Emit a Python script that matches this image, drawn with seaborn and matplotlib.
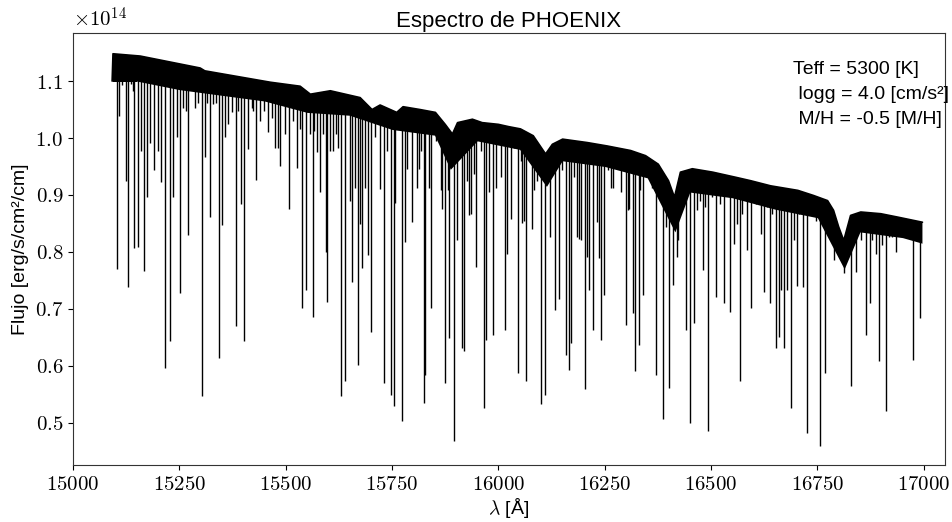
import numpy as np
import pandas as pd
import matplotlib
matplotlib.use("Agg")
import matplotlib.pyplot as plt
from matplotlib.patches import Polygon
from matplotlib.ticker import FuncFormatter, MultipleLocator
import seaborn as sns

# ---- data (flux in units of 1e14 erg/s/cm^2/cm) ----
up_wave = [15092, 15094, 15158, 15299, 15310, 15464, 15534, 15558, 15605, 15675,
           15703, 15722, 15761, 15776, 15816, 15852, 15875, 15892, 15904, 15939,
           15962, 16000, 16024, 16052, 16082, 16111, 16127, 16151, 16209, 16256,
           16311, 16346, 16376, 16400, 16414, 16428, 16456, 16504, 16558, 16593,
           16640, 16704, 16741, 16774, 16788, 16800, 16812, 16828, 16852, 16899,
           16939, 16997]
up_flux = [1.100, 1.148, 1.144, 1.123, 1.118, 1.098, 1.091, 1.077, 1.083, 1.071,
           1.050, 1.058, 1.045, 1.055, 1.050, 1.045, 1.024, 1.007, 1.027, 1.033,
           1.027, 1.024, 1.020, 1.016, 1.004, 0.972, 0.989, 0.998, 0.992, 0.986,
           0.978, 0.969, 0.954, 0.925, 0.896, 0.940, 0.946, 0.940, 0.931, 0.925,
           0.916, 0.908, 0.899, 0.890, 0.873, 0.844, 0.820, 0.864, 0.870, 0.867,
           0.861, 0.852]

floor_wave = [15092, 15150, 15250, 15350, 15450, 15550, 15650, 15750, 15850, 15887,
              15950, 16050, 16113, 16150, 16250, 16350, 16415, 16450, 16550, 16650,
              16750, 16813, 16850, 16950, 16997]
floor_flux = [1.100, 1.100, 1.085, 1.075, 1.065, 1.045, 1.040, 1.015, 1.005, 0.945,
              0.995, 0.980, 0.915, 0.960, 0.950, 0.930, 0.835, 0.905, 0.895, 0.875,
              0.860, 0.770, 0.835, 0.825, 0.815]

# strong absorption lines: centre wavelength and minimum flux
line_wave = [15103, 15125, 15129, 15144, 15152, 15166, 15191, 15206, 15216, 15227,
             15235, 15252, 15270, 15303, 15310, 15322, 15344, 15351, 15358, 15384,
             15394, 15402, 15411, 15430, 15458, 15474, 15486, 15508, 15526, 15539,
             15548, 15564, 15580, 15594, 15598, 15611, 15630, 15640, 15656, 15669,
             15680, 15693, 15700, 15722, 15732, 15748, 15755, 15774, 15781, 15796,
             15809, 15824, 15828, 15841, 15875, 15885, 15896, 15903, 15915, 15919,
             15936, 15948, 15966, 15971, 15988, 15995, 16016, 16021, 16029, 16047,
             16056, 16066, 16079, 16101, 16109, 16121, 16132, 16143, 16158, 16165,
             16171, 16189, 16204, 16212, 16223, 16242, 16249, 16270, 16289, 16300,
             16307, 16316, 16322, 16330, 16340, 16371, 16387, 16401, 16411, 16419,
             16442, 16451, 16460, 16481, 16493, 16512, 16531, 16545, 16568, 16593,
             16624, 16638, 16652, 16660, 16671, 16679, 16687, 16701, 16715, 16726,
             16756, 16769, 16789, 16813, 16828, 16840, 16864, 16874, 16895, 16911,
             16934, 16975, 16991]
line_flux = [0.770, 0.925, 0.739, 0.806, 0.808, 0.767, 0.943, 0.922, 0.596, 0.643,
             0.896, 0.728, 0.829, 0.546, 0.966, 0.862, 0.614, 0.847, 1.001, 0.669,
             0.884, 0.644, 0.980, 0.926, 1.010, 0.983, 0.951, 0.876, 0.948, 0.701,
             0.733, 0.686, 0.905, 0.800, 0.712, 0.978, 0.546, 0.573, 0.747, 0.602,
             0.771, 0.794, 0.660, 0.911, 0.570, 0.549, 0.529, 0.503, 0.817, 0.852,
             0.913, 0.535, 0.584, 0.701, 0.570, 0.648, 0.468, 0.820, 0.631, 0.625,
             0.867, 0.774, 0.526, 0.645, 0.654, 0.913, 0.663, 0.797, 0.858, 0.587,
             0.850, 0.573, 0.840, 0.532, 0.549, 0.826, 0.698, 0.718, 0.619, 0.593,
             0.640, 0.823, 0.559, 0.733, 0.663, 0.645, 0.724, 0.913, 0.905, 0.672,
             0.875, 0.692, 0.590, 0.637, 0.724, 0.584, 0.506, 0.561, 0.742, 0.791,
             0.663, 0.500, 0.675, 0.768, 0.485, 0.721, 0.710, 0.695, 0.573, 0.701,
             0.730, 0.710, 0.631, 0.651, 0.631, 0.733, 0.526, 0.740, 0.739, 0.482,
             0.459, 0.587, 0.785, 0.762, 0.564, 0.765, 0.654, 0.710, 0.608, 0.520,
             0.800, 0.610, 0.683]

# weaker lines of the dense forest
weak_wave = [15095, 15107, 15115, 15136, 15142, 15159, 15173, 15181, 15201, 15244,
             15258, 15266, 15287, 15295, 15315, 15330, 15336, 15365, 15373, 15389,
             15420, 15424, 15440, 15450, 15467, 15481, 15499, 15518, 15534, 15558,
             15567, 15573, 15588, 15605, 15619, 15624, 15651, 15664, 15674, 15687,
             15711, 15738, 15758, 15785, 15813, 15819, 15836, 15853, 15864, 15868,
             15882, 15926, 15931, 15942, 15958, 15979, 16001, 16007, 16036, 16053,
             16060, 16083, 16091, 16126, 16150, 16177, 16184, 16194, 16208, 16232,
             16237, 16257, 16265, 16279, 16305, 16334, 16346, 16354, 16362, 16377,
             16395, 16423, 16431, 16467, 16475, 16486, 16503, 16522, 16553, 16561,
             16573, 16585, 16605, 16617, 16632, 16644, 16664, 16695, 16707, 16734,
             16746, 16777, 16797, 16805, 16852, 16879, 16887, 16903, 16918, 16926,
             16942, 16958, 16969, 16985]
weak_flux = [1.100, 1.039, 1.094, 1.095, 1.083, 0.978, 0.896, 0.992, 0.978, 1.001,
             1.053, 1.048, 1.053, 1.062, 1.062, 1.060, 1.062, 1.025, 1.045, 1.048,
             1.053, 1.048, 1.030, 1.048, 1.036, 0.983, 1.007, 1.030, 1.015, 1.007,
             1.013, 0.975, 1.007, 0.978, 1.007, 0.983, 0.890, 0.913, 0.849, 0.913,
             1.001, 0.978, 0.885, 0.946, 0.946, 0.978, 0.913, 0.995, 0.908, 0.876,
             0.908, 0.925, 0.864, 0.937, 0.978, 0.905, 0.989, 0.931, 0.983, 0.960,
             0.855, 0.908, 0.925, 0.954, 0.943, 0.931, 0.826, 0.820, 0.791, 0.852,
             0.789, 0.943, 0.913, 0.955, 0.873, 0.908, 0.948, 0.931, 0.913, 0.937,
             0.843, 0.820, 0.896, 0.873, 0.890, 0.879, 0.896, 0.884, 0.814, 0.849,
             0.867, 0.803, 0.884, 0.832, 0.879, 0.867, 0.733, 0.820, 0.867, 0.867,
             0.855, 0.838, 0.832, 0.820, 0.820, 0.820, 0.797, 0.812, 0.826, 0.826,
             0.838, 0.829, 0.838, 0.832]

scale = 1e14
title = "Espectro de PHOENIX"
ylabel = "Flujo [erg/s/cm²/cm]"
xlabel = r"$\lambda$ [Å]"
params_text = "Teff = 5300 [K]\n logg = 4.0 [cm/s²]\n M/H = -0.5 [M/H]"

# ---- style ----
sns.set_style("ticks")
plt.rcParams["font.family"] = ["Liberation Sans", "DejaVu Sans"]
plt.rcParams["mathtext.fontset"] = "cm"
for key in ["text.color", "axes.labelcolor", "xtick.color", "ytick.color"]:
    plt.rcParams[key] = "black"

fig = plt.figure(figsize=(9.53, 5.22), dpi=100)
ax = fig.add_axes([73 / 953, 57 / 522, 872 / 953, 432 / 522])

up_w = np.array(up_wave)
up_f = np.array(up_flux) * scale
fl_w = np.array(floor_wave)
fl_f = np.array(floor_flux) * scale

# clip region: everything below the upper envelope
clip_verts = list(zip(up_w, up_f)) + [(up_w[-1], 0.0), (up_w[0], 0.0)]
clip_poly = Polygon(clip_verts, closed=True, transform=ax.transData,
                    facecolor="none", edgecolor="none")
ax.add_patch(clip_poly)

# dense, unresolved line forest just below the continuum
band = ax.fill_between(fl_w, fl_f, 1.3 * scale, color="k", lw=0)
band.set_clip_path(clip_poly)

# continuum envelope
sns.lineplot(x=up_w, y=up_f, color="k", lw=1.2, ax=ax, sort=False, estimator=None)

# individual absorption lines
vl = ax.vlines(line_wave, np.array(line_flux) * scale, 1.3 * scale,
               color="k", lw=1.0)
vl.set_clip_path(clip_poly)
vw = ax.vlines(weak_wave, np.array(weak_flux) * scale, 1.3 * scale,
               color="k", lw=1.0)
vw.set_clip_path(clip_poly)

ax.set_xlim(15000, 17050)
ax.set_ylim(0.4255 * scale, 1.1845 * scale)
ax.xaxis.set_major_locator(MultipleLocator(250))
ax.yaxis.set_major_locator(MultipleLocator(0.1 * scale))
ax.xaxis.set_major_formatter(FuncFormatter(lambda v, p: f"${v:.0f}$"))
ax.yaxis.set_major_formatter(FuncFormatter(lambda v, p: f"${v / scale:.1f}$"))
ax.tick_params(labelsize=15, length=3.5, width=0.8)
for s in ax.spines.values():
    s.set_linewidth(0.8)
    s.set_color("#333333")

ax.text(0.0, 1.005, r"$\times10^{14}$", transform=ax.transAxes,
        ha="left", va="bottom", fontsize=15)
ax.set_title(title, fontsize=16, pad=4)
ax.set_xlabel(xlabel, fontsize=14, labelpad=2)
ax.set_ylabel(ylabel, fontsize=14, labelpad=4)
ax.text(0.826, 0.935, params_text, transform=ax.transAxes, ha="left", va="top",
        fontsize=14, linespacing=1.6)

fig.savefig("out.png", dpi=100)
